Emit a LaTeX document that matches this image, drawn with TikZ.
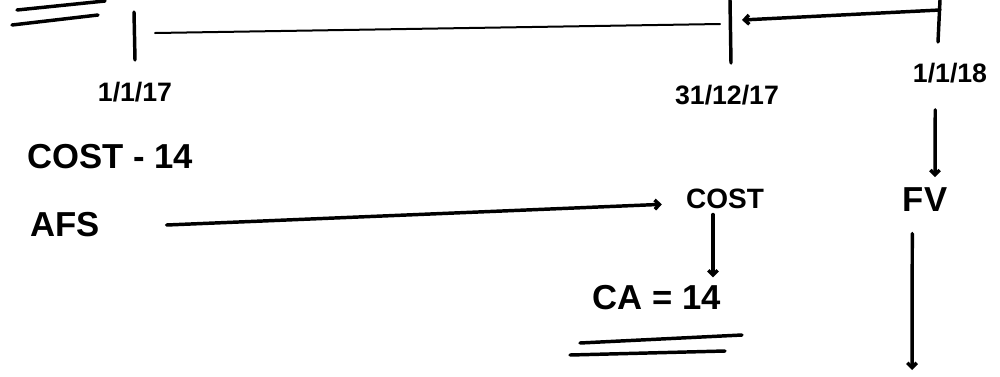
\documentclass[tikz,border=0pt]{standalone}
\usepackage{fontspec}
\setmainfont{Liberation Sans}
\usetikzlibrary{arrows.meta}
\begin{document}
\begin{tikzpicture}[x=0.75pt,y=-0.75pt, line cap=round, line join=round,
  pen/.style={line width=2.6pt},
  thinpen/.style={line width=1.5pt},
  arr/.style={-{Straight Barb[length=3.5pt,width=7pt]}},
  lbl/.style={inner sep=0pt, font=\bfseries\fontsize{26}{30}\selectfont},
  datelbl/.style={inner sep=0pt, font=\bfseries\fontsize{20}{24}\selectfont}]
\useasboundingbox (0,0) rectangle (1000,376);
% top-left double underline
\draw[pen] (17,10) -- (105,1);
\draw[pen] (12,25) -- (98,15);
% ticks
\coordinate (t1top) at (134,12);
\coordinate (t1bot) at (135,60);
\coordinate (t2top) at (730,0);
\coordinate (t2bot) at (731,63);
\coordinate (t3top) at (940,0);
\coordinate (t3bot) at (938,42);
\draw[pen] (t1top) -- (t1bot);
\draw[pen] (t2top) -- (t2bot);
\draw[pen] (t3top) -- (t3bot);
% timeline
\coordinate (tlL) at (155,33);
\coordinate (tlR) at (720,24);
\draw[thinpen] (tlL) -- (tlR);
% bracket arrow 1/1/18 -> 31/12/17
\coordinate (brR) at (940,10);
\coordinate (brL) at (742,20);
\draw[pen,arr] (brR) -- (brL);
% labels
\node[datelbl] (d1) at (135,92) {1/1/17};
\node[datelbl] (d2) at (727,95) {31/12/17};
\node[datelbl] (d3) at (950,73) {1/1/18};
\node[lbl] (cost14) at (110,157) {COST - 14};
\node[lbl] (afs) at (65,225) {AFS};
\node[lbl, font=\bfseries\fontsize{21}{24}\selectfont] (cost) at (725,199) {COST};
\node[lbl] (ca) at (657,298) {CA = 14};
\node[lbl] (fv) at (925,200) {FV};
% connectors
\draw[pen,arr] ([xshift=50pt]afs.east) -- ([xshift=-18pt,yshift=-4pt]cost.west);
\draw[pen,arr,shorten <=4pt,shorten >=6pt] ([xshift=-9pt]cost.south) -- ([xshift=42pt]ca.north);
\draw[pen,arr,shorten <=20pt,shorten >=8pt] ([xshift=-11pt]d3.south) -- ([xshift=7.5pt]fv.north);
\coordinate (fvend) at (912,370);
\draw[pen,arr,shorten <=16pt] ([xshift=-9.5pt]fv.south) -- (fvend);
% double underline under CA
\draw[pen] (580,343) -- (742,335);
\draw[pen] (570,355) -- (725,351);
\end{tikzpicture}
\end{document}
